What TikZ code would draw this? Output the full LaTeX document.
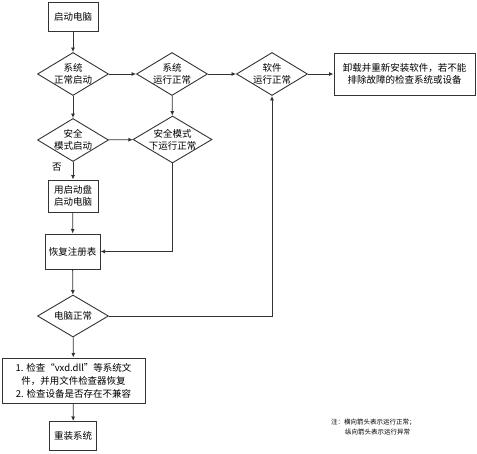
\documentclass[tikz,border=0pt]{standalone}
\usepackage{fontspec}
\newfontfamily\cjk{Noto Sans CJK SC}
\usetikzlibrary{shapes.geometric,arrows.meta}
\begin{document}
\begin{tikzpicture}[x=1pt,y=-1pt,
  font=\cjk\fontsize{9.5}{12}\selectfont,
  every label/.style={align=center,inner sep=0pt},
  conn/.style={draw=black!80,line width=0.8pt},
  arr/.style={conn,-{Latex[length=4.5pt,width=4pt]}},
  box/.style={draw=black!80,line width=1pt,rectangle,align=center,inner sep=1pt},
  dia/.style={diamond,draw=black!80,line width=0.9pt,inner sep=0pt,aspect=1.65,minimum width=71pt,minimum height=43pt}]
\useasboundingbox (0,0) rectangle (477,453);
\node[box,minimum width=50pt,minimum height=29pt] (start) at (73,16.5) {启动电脑};
\node[dia,label={center:系统\\正常启动}] (d1) at (73,74) {};
\node[dia,label={center:系统\\运行正常}] (d2) at (172,74) {};
\node[dia,label={center:软件\\运行正常}] (d3) at (272,74) {};
\node[box,minimum width=141pt,minimum height=42pt] (uninst) at (404.5,74) {卸载并重新安装软件，若不能\\排除故障的检查系统或设备};
\node[dia,label={center:安全\\模式启动}] (d4) at (73,140) {};
\node[dia,minimum width=79pt,minimum height=47pt,aspect=1.68,label={center:安全模式\\下运行正常}] (d5) at (172.5,139.5) {};
\node (no) at (57,167) {否};
\node[box,minimum width=50pt,minimum height=32pt] (boot) at (73,196) {用启动盘\\启动电脑};
\node[box,minimum width=55pt,minimum height=35pt] (reg) at (72.5,251.5) {恢复注册表};
\node[dia,minimum height=42pt,label={center:电脑正常}] (d6) at (73,316) {};
\node[box,minimum width=143pt,minimum height=45pt,font=\cjk\fontsize{9.5}{13}\selectfont] (check) at (73.5,380.5) {1. 检查“vxd.dll”等系统文\\件，并用文件检查器恢复\\2. 检查设备是否存在不兼容};
\node[box,minimum width=47pt,minimum height=29pt] (reins) at (73,436) {重装系统};
\coordinate (c5) at (172.5,251.5);
\coordinate (c6) at (272,316);
\node[anchor=west,inner sep=0pt,font=\cjk\fontsize{6.5}{8}\selectfont] (note1) at (331,422) {注：横向箭头表示运行正常；};
\node[anchor=west,inner sep=0pt,font=\cjk\fontsize{6.5}{8}\selectfont] (note2) at (345,432) {纵向箭头表示运行异常};
\draw[arr] (start) -- (d1);
\draw[arr] (d1) -- (d2);
\draw[arr] (d2) -- (d3);
\draw[arr] (d3) -- (uninst);
\draw[arr] (d1) -- (d4);
\draw[arr] (d2) -- (d5);
\draw[arr] (d4) -- (d5);
\draw[arr] (d4) -- (boot);
\draw[arr] (boot) -- (reg);
\draw[arr] (d5.south) -- (c5) -- (reg.east);
\draw[arr] (reg) -- (d6);
\draw[arr] (d6.east) -- (c6) -- (d3.south);
\draw[arr] (d6) -- (check);
\draw[arr] (check) -- (reins);
\end{tikzpicture}
\end{document}
